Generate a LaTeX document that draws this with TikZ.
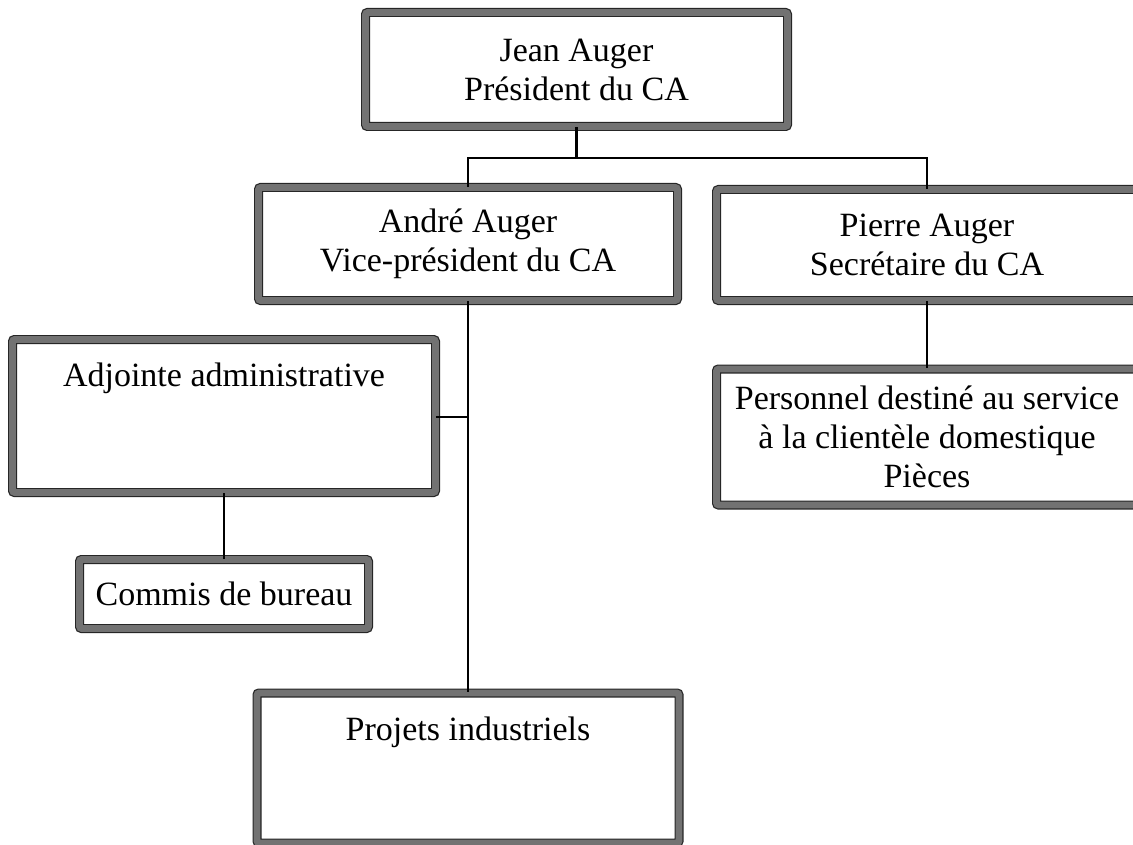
\documentclass[tikz,border=0pt]{standalone}
\usepackage{fontspec}
\setmainfont{Liberation Serif}
\definecolor{framegray}{HTML}{727272}
\begin{document}
\begin{tikzpicture}[x=1pt,y=-1pt,
  box/.style={draw=black!85, line width=1.2pt, double=framegray, double distance=6.6pt,
              rounded corners=2pt, fill=white, inner sep=0pt, align=center,
              font=\fontsize{34}{39}\selectfont},
  boxtext/.style={anchor=base, inner sep=0pt, font=\fontsize{34}{39}\selectfont},
  link/.style={draw=black, line width=2.2pt}]
\useasboundingbox (0,0) rectangle (1133,845);

% level 1
\node[box, minimum width=422pt, minimum height=114pt] (jean) at (576.5,69.5)
  {Jean Auger\\Président du CA};

% level 2
\node[box, minimum width=419pt, minimum height=113pt] (andre) at (468,244)
  {André Auger\\Vice-président du CA};
\node[box, minimum width=421pt, minimum height=111pt] (pierre) at (927,245)
  {Pierre Auger\\Secrétaire du CA};

% under Pierre
\node[box, minimum width=421pt, minimum height=136pt] (perso) at (927,437)
  {Personnel destiné au service\\à la clientèle domestique\\Pièces};

% under André
\node[box, minimum width=423pt, minimum height=153pt] (adj) at (224,416) {};
\node[boxtext] (adjtxt) at (224,386) {Adjointe administrative};

\node[box, minimum width=289pt, minimum height=69pt] (commis) at (224,594)
  {Commis de bureau};

\node[box, minimum width=422pt, minimum height=150pt] (proj) at (468,768) {};
\node[boxtext] (projtxt) at (468,740) {Projets industriels};

% connectors
\coordinate (bus) at (576.5,158);
\draw[link] (jean.south) -- (bus);
\draw[link] (andre.north) |- (bus) -| (pierre.north);
\draw[link] (pierre.south) -- (perso.north);
\draw[link] (andre.south) -- (proj.north);
\coordinate (tap) at (468,417);
\draw[link] (adj.east |- tap) -- (tap);
\draw[link] (adj.south) -- (commis.north);
\end{tikzpicture}
\end{document}
